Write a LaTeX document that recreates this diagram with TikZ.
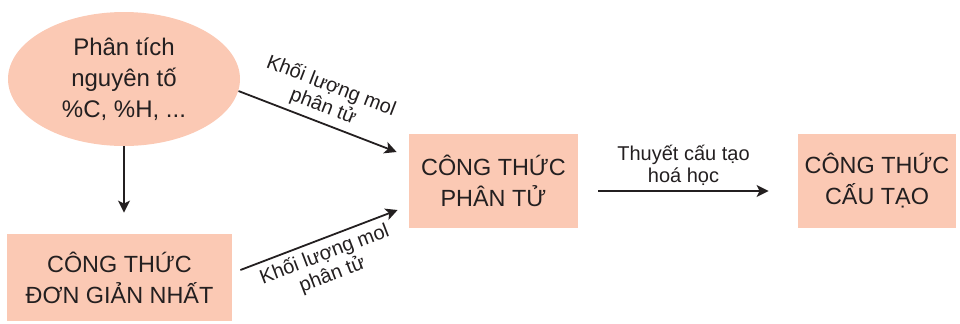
\documentclass[tikz,border=0pt]{standalone}
\usepackage{fontspec}
\setmainfont{Liberation Sans}
\usepackage{tikz}
\usetikzlibrary{arrows.meta,calc,positioning,shapes.geometric}
\definecolor{peach}{RGB}{251,201,180}
\definecolor{ink}{RGB}{35,31,32}

\begin{document}
\begin{tikzpicture}[x=0.5pt,y=-0.5pt,>={Stealth[length=6pt,width=6pt,inset=1.5pt]},
  box/.style={fill=peach,text=ink,inner sep=0pt,align=center,font=\fontsize{11.7}{15.5}\selectfont},
  link/.style={->,draw=ink,line width=0.9pt},
  lbl/.style={text=ink,font=\fontsize{10}{11}\selectfont,align=center,inner sep=2.5pt}]
\useasboundingbox (0,0) rectangle (960,323);
% ellipse, top left
\node[box,ellipse,minimum width=116pt,minimum height=67pt,font=\fontsize{12}{15.5}\selectfont] (ptnt) at (124,79) {Phân tích\\ nguyên tố\\ \%C, \%H, ...};
% the three boxes
\node[box,minimum width=112.5pt,minimum height=43.5pt] (ctdgn) at (119.5,277.5) {CÔNG THỨC\\ ĐƠN GIẢN NHẤT};
\node[box,minimum width=84.5pt,minimum height=47pt] (ctpt) at (493.5,181) {CÔNG THỨC\\ PHÂN TỬ};
\node[box,minimum width=79pt,minimum height=47pt] (ctct) at (877,181) {CÔNG THỨC\\ CẤU TẠO};
% arrows
\draw[link,shorten >=10.5pt] (ptnt.south) -- (ptnt.south |- ctdgn.north);
\draw[link] (ptnt.-6) -- ([shift={(-12,-29)}]ctpt.west)
  node[lbl,pos=0.5,sloped,above] {Khối lượng mol\\ phân tử};
\draw[link] ([shift={(8,-7.5)}]ctdgn.east) -- ([shift={(-11,29)}]ctpt.west)
  node[lbl,midway,sloped,below] {Khối lượng mol\\ phân tử};
\draw[link] ([shift={(20,10)}]ctpt.east) -- ([shift={(-29,10)}]ctct.west)
  node[lbl,midway,above] {Thuyết cấu tạo\\ hoá học};
\end{tikzpicture}
\end{document}
